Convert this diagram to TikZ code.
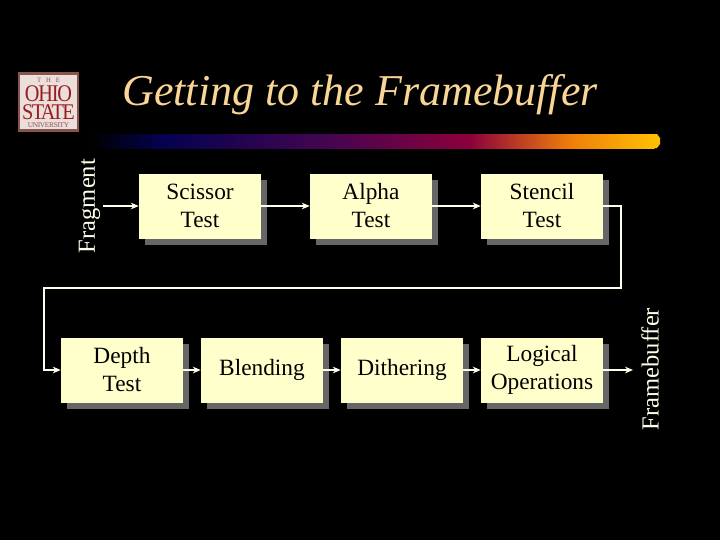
\documentclass[tikz,border=0pt]{standalone}
\usepackage{fontspec}
\setmainfont{Liberation Serif}
\usetikzlibrary{arrows.meta,shadows}
\definecolor{boxfill}{RGB}{255,255,204}
\definecolor{boxshadow}{RGB}{102,102,102}
\definecolor{wirecol}{RGB}{255,255,235}
\definecolor{titlecol}{RGB}{250,214,150}
\definecolor{barnavy}{RGB}{4,2,80}
\definecolor{barpurple}{RGB}{70,5,80}
\definecolor{barred}{RGB}{140,0,60}
\definecolor{barorange}{RGB}{240,125,10}
\definecolor{baramber}{RGB}{255,190,5}
\definecolor{osured}{RGB}{150,30,35}
\definecolor{osupink}{RGB}{236,222,218}
\definecolor{osuedge}{RGB}{135,85,80}
\tikzset{
  stagebox/.style={fill=boxfill,minimum width=91.5,minimum height=48.75,inner sep=0pt,align=center,
    font=\fontsize{17.5}{21}\selectfont,text=black,
    general shadow={fill=boxshadow,shadow xshift=4.5pt,shadow yshift=-4.5pt}},
  wire/.style={draw=wirecol,line width=1.3pt},
  flow/.style={wire,-{Stealth[length=6pt,width=5pt]}},
  sidelabel/.style={text=wirecol,rotate=90,font=\fontsize{18.4}{22}\selectfont,inner sep=0pt},
  osutext/.style={inner sep=0pt,text=osured}
}
\begin{document}
\begin{tikzpicture}[x=0.75pt,y=0.75pt,yscale=-1,xscale=1]
\useasboundingbox[fill=black] (0,0) rectangle (720,540);
% title and logo
\node (title) [anchor=center,inner sep=0pt,text=titlecol,font=\fontsize{33}{38}\itshape] at (360,94.5) {Getting to the Framebuffer};
\node (logo) [draw=osuedge,line width=1.8pt,fill=osupink,minimum width=44,minimum height=43,inner sep=0pt] at (48.5,102) {};
\node (logothe) [osutext,text=osuedge,font=\fontsize{5}{6}\selectfont] at (48.5,80) {T\ \ \ H\ \ \ E};
\node (logoohio) [osutext,font=\fontsize{16}{16}\selectfont] at (48.5,93.5) {\scalebox{0.95}[1.12]{\addfontfeature{LetterSpace=-6}OHIO}};
\node (logostate) [osutext,font=\fontsize{16}{16}\selectfont] at (48.5,112.5) {\scalebox{0.95}[1.05]{\addfontfeature{LetterSpace=-8}STATE}};
\node (logouniv) [osutext,text=osuedge,font=\fontsize{5.5}{6}\selectfont] at (48.5,125.5) {\addfontfeature{LetterSpace=-4}UNIVERSITY};
% bar
\shade [left color=black,right color=barnavy,draw=none] (90,134) rectangle (165,148);
\shade [left color=barnavy,right color=barpurple,draw=none] (164.5,134) rectangle (330,148);
\shade [left color=barpurple,right color=barred,draw=none] (329.5,134) rectangle (470,148);
\shade [left color=barred,right color=barorange,draw=none] (469.5,134) rectangle (570,148);
\shade [left color=barorange,right color=baramber,draw=none] (569.5,134) rectangle (654.5,148);
\fill [baramber] (654,134) -- (657,134) -- (660,138) -- (660,144) -- (657,148) -- (654,148) -- cycle;
% boxes
\node (scissor) [stagebox] at (200,206) {Scissor\\Test};
\node (alpha) [stagebox] at (371,206) {Alpha\\Test};
\node (stencil) [stagebox] at (542,206) {Stencil\\Test};
\node (depth) [stagebox] at (122,370) {Depth\\Test};
\node (blending) [stagebox] at (262,370) {Blending};
\node (dithering) [stagebox] at (402,370) {Dithering};
\node (logical) [stagebox] at (542,370) {Logical\\Operations};
% side labels
\node (fragment) [sidelabel] at (89.5,206) {Fragment};
\node (framebuffer) [sidelabel] at (650,369) {Framebuffer};
% connectors
\coordinate (fragin) at (103,206);
\coordinate (frameout) at (633,370);
\coordinate (wrapright) at (621,288);
\coordinate (wrapleft) at (44,288);
\draw [flow] (fragin) -- (scissor);
\draw [flow] (scissor) -- (alpha);
\draw [flow] (alpha) -- (stencil);
\draw [flow] (stencil.east) -| (wrapright) -- (wrapleft) |- (depth.west);
\draw [flow] (depth) -- (blending);
\draw [flow] (blending) -- (dithering);
\draw [flow] (dithering) -- (logical);
\draw [flow] (logical) -- (frameout);
\end{tikzpicture}
\end{document}
